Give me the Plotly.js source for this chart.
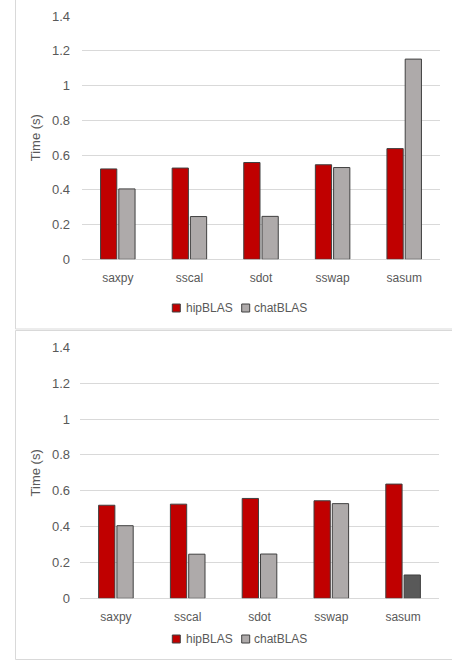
<!DOCTYPE html>
<html><head><meta charset="utf-8">
<script src="https://cdn.plot.ly/plotly-3.0.1.min.js"></script>
<style>html,body{margin:0;padding:0;background:#fff}#chart{width:452px;height:661px}</style>
</head><body><div id="chart"></div>
<script>
const categories = ["saxpy", "sscal", "sdot", "sswap", "sasum"];
const hipTop = [0.52, 0.525, 0.557, 0.544, 0.637];
const chatTop = [0.405, 0.246, 0.247, 0.528, 1.152];
const hipBottom = [0.519, 0.525, 0.557, 0.544, 0.637];
const chatBottom = [0.405, 0.246, 0.247, 0.528, 0.13];
const seriesNames = ["hipBLAS", "chatBLAS"];
const yTicks = [0, 0.2, 0.4, 0.6, 0.8, 1, 1.2, 1.4];

const red = "#C00000", gray = "#AEAAAA", dark = "#595959", edge = "#404040";
const chatBottomColors = chatBottom.map((v, i) => i === 4 ? dark : gray);

const fam = "Liberation Sans, Arial, sans-serif";
const font = {family: fam, size: 12, color: "#595959"};
const traces = [
  {type: "bar", x: categories, y: hipTop, name: seriesNames[0], xaxis: "x", yaxis: "y", showlegend: false,
   marker: {color: red, line: {color: edge, width: 1}}},
  {type: "bar", x: categories, y: chatTop, name: seriesNames[1], xaxis: "x", yaxis: "y", showlegend: false,
   marker: {color: gray, line: {color: edge, width: 1}}},
  {type: "bar", x: categories, y: hipBottom, name: seriesNames[0], xaxis: "x2", yaxis: "y2", showlegend: false,
   marker: {color: red, line: {color: edge, width: 1}}},
  {type: "bar", x: categories, y: chatBottom, name: seriesNames[1], xaxis: "x2", yaxis: "y2", showlegend: false,
   marker: {color: chatBottomColors, line: {color: edge, width: 1}}}
];

const yax = (dom) => ({
  domain: dom, range: [0, 1.4], tickvals: yTicks, ticktext: yTicks.map(String),
  showgrid: true, gridcolor: "#D9D9D9", gridwidth: 1, zeroline: true, zerolinecolor: "#D9D9D9", zerolinewidth: 1,
  showline: false, ticks: "", ticklabelstandoff: 11, tickfont: {family: fam, size: 13, color: "#595959"},
  automargin: false, fixedrange: true,
  title: {text: "Time (s)", standoff: 8, font: {family: fam, size: 13, color: "#595959"}}
});
const xax = (dom, anchor) => ({
  domain: dom, anchor: anchor, showline: false, ticks: "", tickfont: font, ticklabelstandoff: 10,
  showgrid: false, automargin: false, fixedrange: true
});

// legend swatches + labels (one set per panel)
const legendRows = [308, 639];
const swatchX = [[172.3, 180.3], [241.7, 249.7]];
const textX = [184, 252];
const swatchColors = [red, gray];
const shapes = [];
const annotations = [];
legendRows.forEach(yc => {
  seriesNames.forEach((nm, i) => {
    shapes.push({type: "rect", xref: "paper", yref: "paper",
      x0: swatchX[i][0]/452, x1: swatchX[i][1]/452, y0: 1 - (yc + 4)/661, y1: 1 - (yc - 4)/661,
      fillcolor: swatchColors[i], line: {color: edge, width: 1}});
    annotations.push({xref: "paper", yref: "paper", x: textX[i]/452, y: 1 - yc/661, xanchor: "left", yanchor: "middle",
      text: nm, showarrow: false, font: font});
  });
});
const border = {color: "#D9D9D9", width: 1};
shapes.push(
  {type: "line", xref: "paper", yref: "paper", x0: 15.5/452, x1: 15.5/452, y0: 1 - 329/661, y1: 1, line: border},
  {type: "line", xref: "paper", yref: "paper", x0: 15.5/452, x1: 1, y0: 1 - 329/661, y1: 1 - 329/661, line: border},
  {type: "line", xref: "paper", yref: "paper", x0: 15.5/452, x1: 15.5/452, y0: 1 - 659.5/661, y1: 1 - 330.5/661, line: border},
  {type: "line", xref: "paper", yref: "paper", x0: 15.5/452, x1: 1, y0: 1 - 330.5/661, y1: 1 - 330.5/661, line: border},
  {type: "line", xref: "paper", yref: "paper", x0: 15.5/452, x1: 1, y0: 1 - 659.5/661, y1: 1 - 659.5/661, line: border}
);

const layout = {
  width: 452, height: 661, margin: {l: 0, r: 0, t: 0, b: 0},
  paper_bgcolor: "#fff", plot_bgcolor: "rgba(0,0,0,0)",
  barmode: "group", bargap: 0.49, bargroupgap: 0.11,
  font: font, showlegend: false,
  xaxis: xax([82/452, 440/452], "y"),
  yaxis: yax([1 - 259.3/661, 1 - 16/661]),
  xaxis2: xax([80/452, 439/452], "y2"),
  yaxis2: yax([1 - 598.3/661, 1 - 347.3/661]),
  shapes: shapes, annotations: annotations
};
Plotly.newPlot("chart", traces, layout, {displayModeBar: false, staticPlot: true});
</script></body></html>
